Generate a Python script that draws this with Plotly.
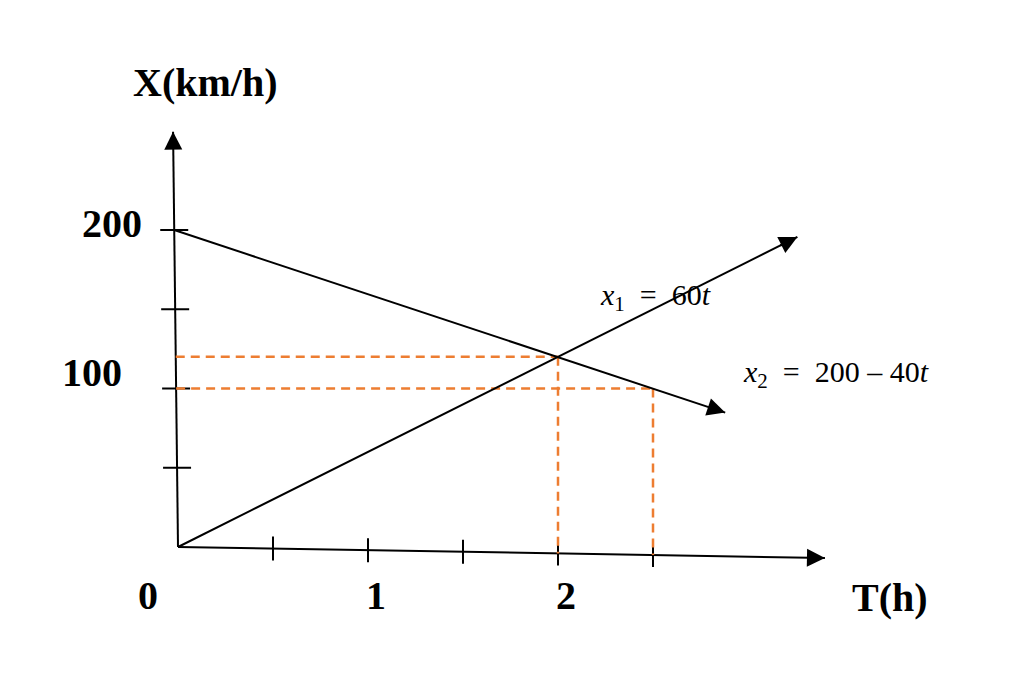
import plotly.graph_objects as go

# ---------------- data ----------------
t_tick_values = [0.5, 1.0, 1.5, 2.0, 2.5]      # hours
x_tick_values = [50, 100, 150, 200]            # km
t_label_values = [0, 1, 2]
t_label_text = ["0", "1", "2"]
x_label_values = [100, 200]
x_label_text = ["100", "200"]

v1 = 60            # x1 = 60 t
x2_start = 200     # x2 = 200 - 40 t
v2 = -40
t_meet = 2.0       # meeting time
t_at_100 = 2.5     # time where x2 = 100
t_end_1 = 3.26     # arrow end of x1 line
t_end_2 = 2.88     # arrow end of x2 line

# ---------------- geometry helpers (pixels -> data) ----------------
W, H = 1024, 699
ORIGIN_PX = (178, 547)
PX_PER_H = 190.0
PX_PER_KM = 1.585
t_range = [-ORIGIN_PX[0] / PX_PER_H, (W - ORIGIN_PX[0]) / PX_PER_H]
x_range = [-(H - ORIGIN_PX[1]) / PX_PER_KM, ORIGIN_PX[1] / PX_PER_KM]

# slightly tilted hand-drawn axes
T_AXIS_END = (3.405, -6.9)
X_AXIS_END = (-0.026, 262.0)


def t_axis_y(t):
    return T_AXIS_END[1] * t / T_AXIS_END[0]


def x_axis_t(x):
    return X_AXIS_END[0] * x / X_AXIS_END[1]


def x1(t):
    return v1 * t


def x2(t):
    return x2_start + v2 * t


BLACK = "#000000"
ORANGE = "#ED7D31"
SERIF = "Liberation Serif, Times New Roman, serif"

fig = go.Figure()

# axes
fig.add_trace(go.Scatter(x=[0, T_AXIS_END[0]], y=[0, T_AXIS_END[1]], mode="lines",
                         line=dict(color=BLACK, width=2), hoverinfo="skip"))
fig.add_trace(go.Scatter(x=[0, X_AXIS_END[0]], y=[0, X_AXIS_END[1]], mode="lines",
                         line=dict(color=BLACK, width=2), hoverinfo="skip"))

# ticks on T axis (vertical marks)
tick_half_x = 12 / PX_PER_KM
for tv in t_tick_values:
    yc = t_axis_y(tv)
    fig.add_trace(go.Scatter(x=[tv, tv], y=[yc - tick_half_x, yc + tick_half_x], mode="lines",
                             line=dict(color=BLACK, width=2), hoverinfo="skip"))
# ticks on X axis (horizontal marks)
tick_half_t = 14 / PX_PER_H
for xv in x_tick_values:
    tc = x_axis_t(xv)
    fig.add_trace(go.Scatter(x=[tc - tick_half_t, tc + tick_half_t], y=[xv, xv], mode="lines",
                             line=dict(color=BLACK, width=2), hoverinfo="skip"))

# orange dashed guides
dash = "9px,6px"
dw = 2.5
fig.add_trace(go.Scatter(x=[x_axis_t(x1(t_meet)), t_meet], y=[x1(t_meet), x1(t_meet)], mode="lines",
                         line=dict(color=ORANGE, width=dw, dash=dash), hoverinfo="skip"))
fig.add_trace(go.Scatter(x=[t_meet, t_meet], y=[x1(t_meet), t_axis_y(t_meet)], mode="lines",
                         line=dict(color=ORANGE, width=dw, dash=dash), hoverinfo="skip"))
fig.add_trace(go.Scatter(x=[x_axis_t(x2(t_at_100)), t_at_100], y=[x2(t_at_100), x2(t_at_100)], mode="lines",
                         line=dict(color=ORANGE, width=dw, dash=dash), hoverinfo="skip"))
fig.add_trace(go.Scatter(x=[t_at_100, t_at_100], y=[x2(t_at_100), t_axis_y(t_at_100)], mode="lines",
                         line=dict(color=ORANGE, width=dw, dash=dash), hoverinfo="skip"))

# motion lines
fig.add_trace(go.Scatter(x=[0, t_end_1], y=[x1(0), x1(t_end_1)], mode="lines",
                         line=dict(color=BLACK, width=2), hoverinfo="skip"))
t2_start = x_axis_t(x2_start)
fig.add_trace(go.Scatter(x=[t2_start, t_end_2], y=[x2(0), x2(t_end_2)], mode="lines",
                         line=dict(color=BLACK, width=2), hoverinfo="skip"))

annotations = []


def arrow_head(xe, ye, xs, ys):
    # short arrow along the segment (xs,ys)->(xe,ye), head at the end
    f = 0.03
    annotations.append(dict(x=xe, y=ye, ax=xe - (xe - xs) * f, ay=ye - (ye - ys) * f,
                            xref="x", yref="y", axref="x", ayref="y", text="",
                            showarrow=True, arrowhead=2, arrowsize=1.8, arrowwidth=2,
                            arrowcolor=BLACK, standoff=0))


arrow_head(T_AXIS_END[0], T_AXIS_END[1], 0, 0)
arrow_head(X_AXIS_END[0], X_AXIS_END[1], 0, 0)
arrow_head(t_end_1, x1(t_end_1), 0, x1(0))
arrow_head(t_end_2, x2(t_end_2), t2_start, x2(0))


def label(text, t, x, size, bold=True, xanchor="center"):
    annotations.append(dict(x=t, y=x, xref="x", yref="y", text=("<b>%s</b>" % text) if bold else text,
                            showarrow=False, xanchor=xanchor, yanchor="middle",
                            font=dict(family=SERIF, size=size, color=BLACK)))


# axis titles
label("X(km/h)", (205 - ORIGIN_PX[0]) / PX_PER_H, (ORIGIN_PX[1] - 82) / PX_PER_KM, 40)
label("T(h)", (890 - ORIGIN_PX[0]) / PX_PER_H, (ORIGIN_PX[1] - 597) / PX_PER_KM, 40)

# T labels
label_y = (ORIGIN_PX[1] - 595) / PX_PER_KM
for v, txt in zip(t_label_values, t_label_text):
    pos = v + 0.04 if v else -30 / PX_PER_H
    label(txt, pos, label_y, 40)

# X labels (right anchored, hand placed offsets)
x_label_right_px = {100: 124, 200: 144}
x_label_dy_px = {100: 16, 200: 7}
for v, txt in zip(x_label_values, x_label_text):
    label(txt, (x_label_right_px[v] - ORIGIN_PX[0]) / PX_PER_H,
          v + x_label_dy_px[v] / PX_PER_KM, 40, xanchor="right")

# equations
label("<i>x</i><sub>1</sub>\u2002=\u200260<i>t</i>", (655 - ORIGIN_PX[0]) / PX_PER_H,
      (ORIGIN_PX[1] - 297) / PX_PER_KM, 30, bold=False)
label("<i>x</i><sub>2</sub>\u2002=\u2002200 \u2013 40<i>t</i>", (836 - ORIGIN_PX[0]) / PX_PER_H,
      (ORIGIN_PX[1] - 374) / PX_PER_KM, 30, bold=False)

fig.update_layout(
    width=W, height=H, autosize=False,
    margin=dict(l=0, r=0, t=0, b=0),
    paper_bgcolor="white", plot_bgcolor="white",
    showlegend=False,
    xaxis=dict(range=t_range, visible=False, fixedrange=True),
    yaxis=dict(range=x_range, visible=False, fixedrange=True),
    annotations=annotations,
)

fig.write_html("out.html", config={"displayModeBar": False},
               post_script="document.body.style.margin='0';document.body.style.overflow='hidden';")
